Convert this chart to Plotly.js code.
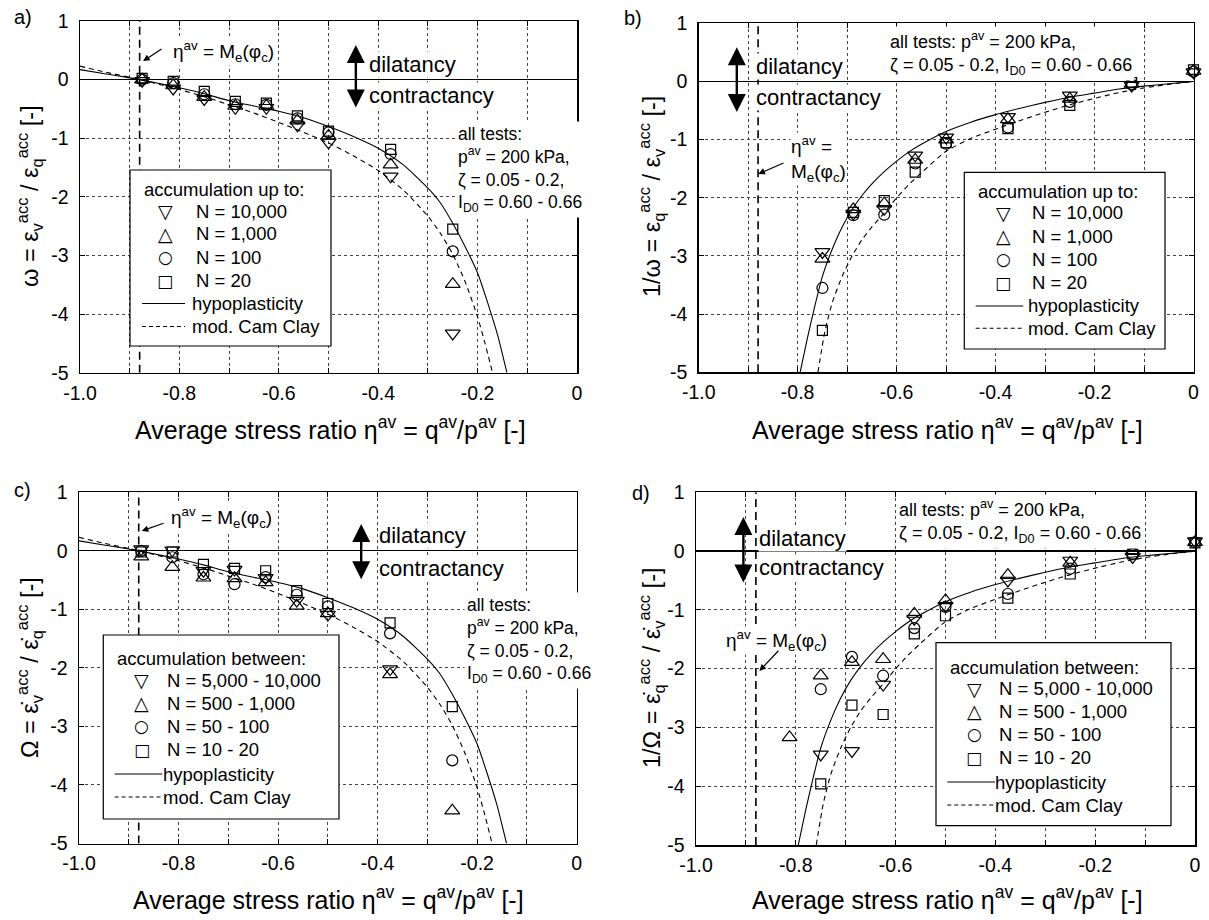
<!DOCTYPE html>
<html><head><meta charset="utf-8">
<script src="https://cdn.plot.ly/plotly-3.0.1.min.js"></script>
<style>body{margin:0;background:#fff}#g{width:1209px;height:920px}</style>
</head><body><div id="g"></div>
<script>
// ---------- data ----------
const Me = -0.88; // eta_av = M_e(phi_c)

// panel a: omega, accumulation up to N
const etaA = [-0.875, -0.8125, -0.75, -0.6875, -0.625, -0.5625, -0.5, -0.375, -0.25];
const aN10000 = [-0.02, -0.15, -0.33, -0.48, -0.48, -0.78, -1.07, -1.65, -4.33];
const aN1000  = [0.0, -0.10, -0.30, -0.45, -0.45, -0.70, -0.96, -1.45, -3.49];
const aN100   = [0.0, -0.06, -0.25, -0.42, -0.43, -0.66, -0.90, -1.27, -2.93];
const aN20    = [0.02, -0.03, -0.20, -0.37, -0.40, -0.62, -0.88, -1.19, -2.55];

// panel b: 1/omega
const etaB = [-0.75, -0.6875, -0.625, -0.5625, -0.5, -0.375, -0.25, -0.125, 0];
const bN10000 = [-2.93, -2.27, -2.19, -1.27, -0.96, -0.61, -0.24, -0.07, 0.16];
const bN1000  = [-3.05, -2.20, -2.10, -1.35, -1.00, -0.65, -0.30, -0.04, 0.18];
const bN100   = [-3.55, -2.30, -2.29, -1.41, -1.07, -0.79, -0.35, -0.05, 0.17];
const bN20    = [-4.28, -2.25, -2.05, -1.56, -1.05, -0.81, -0.41, -0.02, 0.20];

// panel c: Omega, accumulation between
const etaC = [-0.875, -0.8125, -0.75, -0.6875, -0.625, -0.5625, -0.5, -0.375, -0.25];
const cN5000 = [0.03, 0.01, -0.34, -0.32, -0.46, -0.85, -1.09, -2.02, null];
const cN500  = [-0.10, -0.28, -0.46, -0.47, -0.54, -0.94, -1.07, -2.11, -4.44];
const cN50   = [0.0, -0.11, -0.40, -0.57, -0.45, -0.75, -0.95, -1.41, -3.58];
const cN10   = [-0.02, -0.02, -0.23, -0.30, -0.34, -0.68, -0.90, -1.23, -2.66];

// panel d: 1/Omega
const etaD = [-0.8125, -0.75, -0.6875, -0.625, -0.5625, -0.5, -0.375, -0.25, -0.125, 0];
const dN5000 = [null, -3.46, -3.40, -2.27, -1.15, -0.93, -0.50, -0.16, -0.10, 0.17];
const dN500  = [-3.17, -2.12, -1.89, -1.84, -1.07, -0.84, -0.41, -0.20, 0.00, 0.15];
const dN50   = [null, -2.35, -1.80, -2.12, -1.31, -0.95, -0.73, -0.30, -0.05, 0.15];
const dN10   = [null, -3.96, -2.62, -2.78, -1.41, -1.10, -0.80, -0.39, -0.05, 0.14];

// model curves (omega)
const etaHypoW = [-1.0, -0.95, -0.9, -0.85, -0.8, -0.75, -0.7, -0.65, -0.6, -0.55, -0.5, -0.45, -0.4, -0.35, -0.3, -0.275, -0.25, -0.225, -0.2, -0.18, -0.16, -0.141];
const hypoW    = [0.17, 0.10, 0.03, -0.05, -0.14, -0.24, -0.36, -0.45, -0.54, -0.65, -0.80, -0.97, -1.17, -1.45, -1.85, -2.10, -2.45, -2.85, -3.30, -3.80, -4.35, -5.0];
const etaMccW  = [-1.0, -0.95, -0.9, -0.85, -0.8, -0.75, -0.7, -0.65, -0.6, -0.55, -0.5, -0.45, -0.4, -0.35, -0.3, -0.275, -0.25, -0.225, -0.2, -0.185, -0.17];
const mccW     = [0.23, 0.13, 0.04, -0.06, -0.17, -0.29, -0.43, -0.57, -0.73, -0.90, -1.08, -1.30, -1.55, -1.88, -2.33, -2.62, -2.98, -3.45, -4.05, -4.50, -5.0];
// model curves (1/omega)
const etaHypoI = [-0.795, -0.78, -0.765, -0.75, -0.73, -0.71, -0.69, -0.67, -0.65, -0.625, -0.6, -0.575, -0.55, -0.5, -0.45, -0.4, -0.35, -0.3, -0.25, -0.2, -0.15, -0.1, -0.05, 0];
const hypoI    = [-5.0, -4.4, -3.85, -3.35, -2.88, -2.5, -2.2, -1.96, -1.76, -1.55, -1.37, -1.21, -1.08, -0.86, -0.70, -0.57, -0.46, -0.36, -0.27, -0.20, -0.13, -0.08, -0.04, 0];
const etaMccI  = [-0.759, -0.745, -0.73, -0.71, -0.69, -0.67, -0.65, -0.625, -0.6, -0.575, -0.55, -0.5, -0.45, -0.4, -0.35, -0.3, -0.25, -0.2, -0.15, -0.1, -0.05, 0];
const mccI     = [-5.0, -4.3, -3.8, -3.35, -3.0, -2.72, -2.5, -2.26, -2.0, -1.77, -1.57, -1.20, -0.98, -0.82, -0.67, -0.53, -0.40, -0.29, -0.19, -0.11, -0.05, 0];

const namesUpTo = ['N = 10,000', 'N = 1,000', 'N = 100', 'N = 20'];
const namesBetween = ['N = 5,000 - 10,000', 'N = 500 - 1,000', 'N = 50 - 100', 'N = 10 - 20'];
const modelNames = ['hypoplasticity', 'mod. Cam Clay'];
const xTickVals = [-1, -0.8, -0.6, -0.4, -0.2, 0];
const xTickText = ['-1.0', '-0.8', '-0.6', '-0.4', '-0.2', '0'];
const yTickVals = [-5, -4, -3, -2, -1, 0, 1];
const yTickText = ['-5', '-4', '-3', '-2', '-1', '0', '1'];

// ---------- drawing ----------
const W = 1209, H = 920;
const FONT = 'Liberation Sans, Arial, Helvetica, sans-serif';
const px = x => x / W, py = y => 1 - y / H;
const symbols = ['triangle-down-open', 'triangle-up-open', 'circle-open', 'square-open'];
const sizes = [13, 13, 11, 10];
const glyphs = ['\u25BD', '\u25B3', '\u25CB', '\u25A1'];
const glyphSize = [19, 19, 17, 17];

const traces = [];
function panel(ax, eta, series, names, etaH, hy, etaM, mc) {
  const xa = 'x' + (ax === 1 ? '' : ax), ya = 'y' + (ax === 1 ? '' : ax);
  series.forEach((s, i) => traces.push({
    type: 'scatter', mode: 'markers', x: eta, y: s, name: names[i], xaxis: xa, yaxis: ya, showlegend: false,
    cliponaxis: false,
    marker: {symbol: symbols[i], size: sizes[i], color: '#000', line: {color: '#000', width: 1.2}}
  }));
  traces.push({type: 'scatter', mode: 'lines', x: etaH, y: hy, name: modelNames[0], xaxis: xa, yaxis: ya, showlegend: false,
    line: {color: '#000', width: 1.1, shape: 'spline', smoothing: 0.6}});
  traces.push({type: 'scatter', mode: 'lines', x: etaM, y: mc, name: modelNames[1], xaxis: xa, yaxis: ya, showlegend: false,
    line: {color: '#000', width: 1.1, dash: '5px,4px', shape: 'spline', smoothing: 0.6}});
  traces.push({type: 'scatter', mode: 'lines', x: [Me, Me], y: [-5, 1], xaxis: xa, yaxis: ya, showlegend: false, hoverinfo: 'skip',
    line: {color: '#000', width: 1.6, dash: '8px,5px'}});
}
panel(1, etaA, [aN10000, aN1000, aN100, aN20], namesUpTo, etaHypoW, hypoW, etaMccW, mccW);
panel(2, etaB, [bN10000, bN1000, bN100, bN20], namesUpTo, etaHypoI, hypoI, etaMccI, mccI);
panel(3, etaC, [cN5000, cN500, cN50, cN10], namesBetween, etaHypoW, hypoW, etaMccW, mccW);
panel(4, etaD, [dN5000, dN500, dN50, dN10], namesBetween, etaHypoI, hypoI, etaMccI, mccI);

function xax(domain, anchor) {
  return {domain, anchor, range: [-1, 0], tickmode: 'array', tickvals: xTickVals, ticktext: xTickText,
    showgrid: true, gridcolor: '#444', griddash: 'dot', gridwidth: 1, zeroline: false,
    minor: {tickmode: 'linear', tick0: 0, dtick: 0.1, showgrid: true, gridcolor: '#444', griddash: 'dot', gridwidth: 1,
      ticks: 'inside', ticklen: 5, tickcolor: '#000'},
    showline: true, linecolor: '#000', linewidth: 1.5, mirror: 'allticks', ticks: 'inside', ticklen: 5, tickcolor: '#000',
    tickfont: {size: 19.5, color: '#000', family: FONT}, ticklabelstandoff: 2};
}
function yax(domain, anchor) {
  return {domain, anchor, range: [-5, 1], tickmode: 'array', tickvals: yTickVals, ticktext: yTickText,
    showgrid: true, gridcolor: '#444', griddash: 'dot', gridwidth: 1,
    zeroline: true, zerolinecolor: '#000', zerolinewidth: 1.2,
    showline: true, linecolor: '#000', linewidth: 1.5, mirror: 'allticks', ticks: 'inside', ticklen: 5, tickcolor: '#000',
    tickfont: {size: 19.5, color: '#000', family: FONT}, ticklabelstandoff: 6};
}

const ann = [], shapes = [];
function txt(text, x, y, opts) {
  ann.push(Object.assign({text, x: px(x), y: py(y), xref: 'paper', yref: 'paper', showarrow: false,
    xanchor: 'left', yanchor: 'middle', font: {size: 19, color: '#000', family: FONT}}, opts || {}));
}
function dtxt(ax, text, x, y, opts) {
  const s = ax === 1 ? '' : ax;
  ann.push(Object.assign({text, x, y, xref: 'x' + s, yref: 'y' + s, showarrow: false, align: 'left',
    xanchor: 'left', yanchor: 'middle', font: {size: 18, color: '#000', family: FONT}}, opts || {}));
}
function arrow(ax, x, y, tx, ty, both) {
  const s = ax === 1 ? '' : ax;
  ann.push({text: '', x, y, ax: tx, ay: ty, xref: 'x' + s, yref: 'y' + s, axref: 'x' + s, ayref: 'y' + s,
    showarrow: true, arrowhead: 2, arrowside: both ? 'end+start' : 'end', arrowsize: both ? 1.5 : 1.1,
    arrowwidth: both ? 2.4 : 1.2, arrowcolor: '#000', standoff: 0, startstandoff: 0});
}
// custom legends (box, title, symbols, line samples, texts)
function legendBox(box, title, rows, symX, textX, lineX, names) {
  shapes.push({type: 'rect', xref: 'paper', yref: 'paper', x0: px(box[0]), x1: px(box[2]), y0: py(box[3]), y1: py(box[1]),
    fillcolor: '#fff', line: {color: '#000', width: 1.2}, layer: 'above'});
  txt(title, box[0] + 12, rows[0] - 21.5, {font: {size: 18.5, color: '#000', family: FONT}});
  names.forEach((n, i) => {
    txt(glyphs[i], symX, rows[i], {xanchor: 'center', font: {size: glyphSize[i], color: '#000', family: 'DejaVu Sans'}});
    txt(n, textX, rows[i], {font: {size: 18.5, color: '#000', family: FONT}});
  });
  modelNames.forEach((n, j) => {
    const y = rows[4 + j];
    shapes.push({type: 'line', xref: 'paper', yref: 'paper', x0: px(lineX[0]), x1: px(lineX[1]), y0: py(y), y1: py(y),
      line: {color: '#000', width: 1.1, dash: j ? '4px,3px' : 'solid'}, layer: 'above'});
    txt(n, textX - 4, y, {font: {size: 18.5, color: '#000', family: FONT}});
  });
}
legendBox([130, 170, 331, 346], 'accumulation up to:', [211, 233.5, 257, 280.5, 303.5, 326.5], 165, 194, [142, 185], namesUpTo);
legendBox([964.3, 172.3, 1165, 349], 'accumulation up to:', [212.7, 236, 259.3, 282.7, 306, 328.3], 1003.3, 1030, [975.7, 1023.3], namesUpTo);
legendBox([103.3, 635, 339, 819], 'accumulation between:', [680, 703, 726, 749.5, 774, 797], 141.6, 164.6, [114.6, 162.3], namesBetween);
legendBox([936, 642.7, 1171, 825.7], 'accumulation between:', [688.5, 711, 734, 757.5, 782, 805], 974.3, 997.3, [947.3, 995], namesBetween);

// panel labels
txt('a)', 12, 17, {font: {size: 20, color: '#000', family: FONT}});
txt('b)', 622, 18, {font: {size: 20, color: '#000', family: FONT}});
txt('c)', 12, 490, {font: {size: 20, color: '#000', family: FONT}});
txt('d)', 630, 493, {font: {size: 20, color: '#000', family: FONT}});
// axis titles
const xTitle = 'Average stress ratio \u03B7<sup>av</sup> = q<sup>av</sup>/p<sup>av</sup> [-]';
[[330, 428], [947, 428], [328, 898], [947, 898]].forEach(p => txt(xTitle, p[0], p[1], {xanchor: 'center', font: {size: 25, color: '#000', family: FONT}}));
const ed = '\u03B5\u0307';
const yTitles = [
  ['\u03C9 = \u03B5<sub>v</sub><sup>acc</sup> / \u03B5<sub>q</sub><sup>acc</sup> [-]', 29, 196],
  ['1/\u03C9 = \u03B5<sub>q</sub><sup>acc</sup> / \u03B5<sub>v</sub><sup>acc</sup> [-]', 651, 197],
  ['\u03A9 = ' + ed + '<sub>v</sub><sup>acc</sup> / ' + ed + '<sub>q</sub><sup>acc</sup> [-]', 29, 668],
  ['1/\u03A9 = ' + ed + '<sub>q</sub><sup>acc</sup> / ' + ed + '<sub>v</sub><sup>acc</sup> [-]', 651, 668]];
yTitles.forEach(t => txt(t[0], t[1], t[2], {xanchor: 'center', textangle: -90, font: {size: 23.5, color: '#000', family: FONT}}));

// dilatancy / contractancy
const dil = [[1, -0.445, 0.59, -0.50, -0.4205, 0.26, -0.27], [2, -0.923, 0.59, -0.55, -0.886, 0.25, -0.27],
             [3, -0.433, 0.46, -0.51, -0.40, 0.27, -0.30], [4, -0.905, 0.58, -0.56, -0.875, 0.21, -0.28]];
dil.forEach(d => {
  arrow(d[0], d[1], d[2], d[1], d[3], true);
  dtxt(d[0], 'dilatancy', d[4], d[5], {bgcolor: '#fff', borderpad: 0, font: {size: 22, color: '#000', family: FONT}});
  dtxt(d[0], 'contractancy', d[4], d[6], {bgcolor: '#fff', borderpad: 0, font: {size: 22, color: '#000', family: FONT}});
});
// eta = Me annotations
const meT = '\u03B7<sup>av</sup> = M<sub>e</sub>(\u03C6<sub>c</sub>)';
dtxt(1, meT, -0.815, 0.476, {bgcolor: '#fff', borderpad: 0, font: {size: 19, color: '#000', family: FONT}});
arrow(1, -0.873, 0.316, -0.833, 0.54, false);
dtxt(2, '\u03B7<sup>av</sup> =<br>M<sub>e</sub>(\u03C6<sub>c</sub>)', -0.8154, -1.33, {bgcolor: '#fff', borderpad: 0, font: {size: 19, color: '#000', family: FONT}});
arrow(2, -0.8795, -1.59, -0.8255, -1.39, false);
dtxt(3, meT, -0.817, 0.57, {bgcolor: '#fff', borderpad: 0, font: {size: 19, color: '#000', family: FONT}});
arrow(3, -0.874, 0.34, -0.827, 0.48, false);
dtxt(4, meT, -0.942, -1.52, {bgcolor: '#fff', borderpad: 0, font: {size: 19, color: '#000', family: FONT}});
arrow(4, -0.873, -2.04, -0.832, -1.67, false);
// all tests
const allLong = 'all tests:<br>p<sup>av</sup> = 200 kPa,<br>\u03B6 = 0.05 - 0.2,<br>I<sub>D0</sub> = 0.60 - 0.66';
const allShort = 'all tests: p<sup>av</sup> = 200 kPa,<br>\u03B6 = 0.05 - 0.2, I<sub>D0</sub> = 0.60 - 0.66';
dtxt(1, allLong, -0.2455, -1.54, {bgcolor: '#fff', borderpad: 2, font: {size: 17.5, color: '#000', family: FONT}});
dtxt(3, allLong, -0.2265, -1.54, {bgcolor: '#fff', borderpad: 2, font: {size: 17.5, color: '#000', family: FONT}});
dtxt(2, allShort, -0.62, 0.476, {bgcolor: '#fff', borderpad: 2});
dtxt(4, allShort, -0.599, 0.51, {bgcolor: '#fff', borderpad: 2});

const layout = {
  width: W, height: H, margin: {l: 0, r: 0, t: 0, b: 0}, paper_bgcolor: '#fff', plot_bgcolor: '#fff',
  font: {family: FONT, color: '#000'}, showlegend: false,
  xaxis: xax([px(80), px(577)], 'y'), yaxis: yax([py(372.7), py(21)], 'x'),
  xaxis2: xax([px(698.7), px(1193.5)], 'y2'), yaxis2: yax([py(372.3), py(23.3)], 'x2'),
  xaxis3: xax([px(79), px(576.7)], 'y3'), yaxis3: yax([py(843.5), py(492.3)], 'x3'),
  xaxis4: xax([px(696), px(1195)], 'y4'), yaxis4: yax([py(845), py(492.3)], 'x4'),
  shapes: shapes,
  annotations: ann
};
Plotly.newPlot('g', traces, layout, {displayModeBar: false, staticPlot: true});
</script></body></html>
